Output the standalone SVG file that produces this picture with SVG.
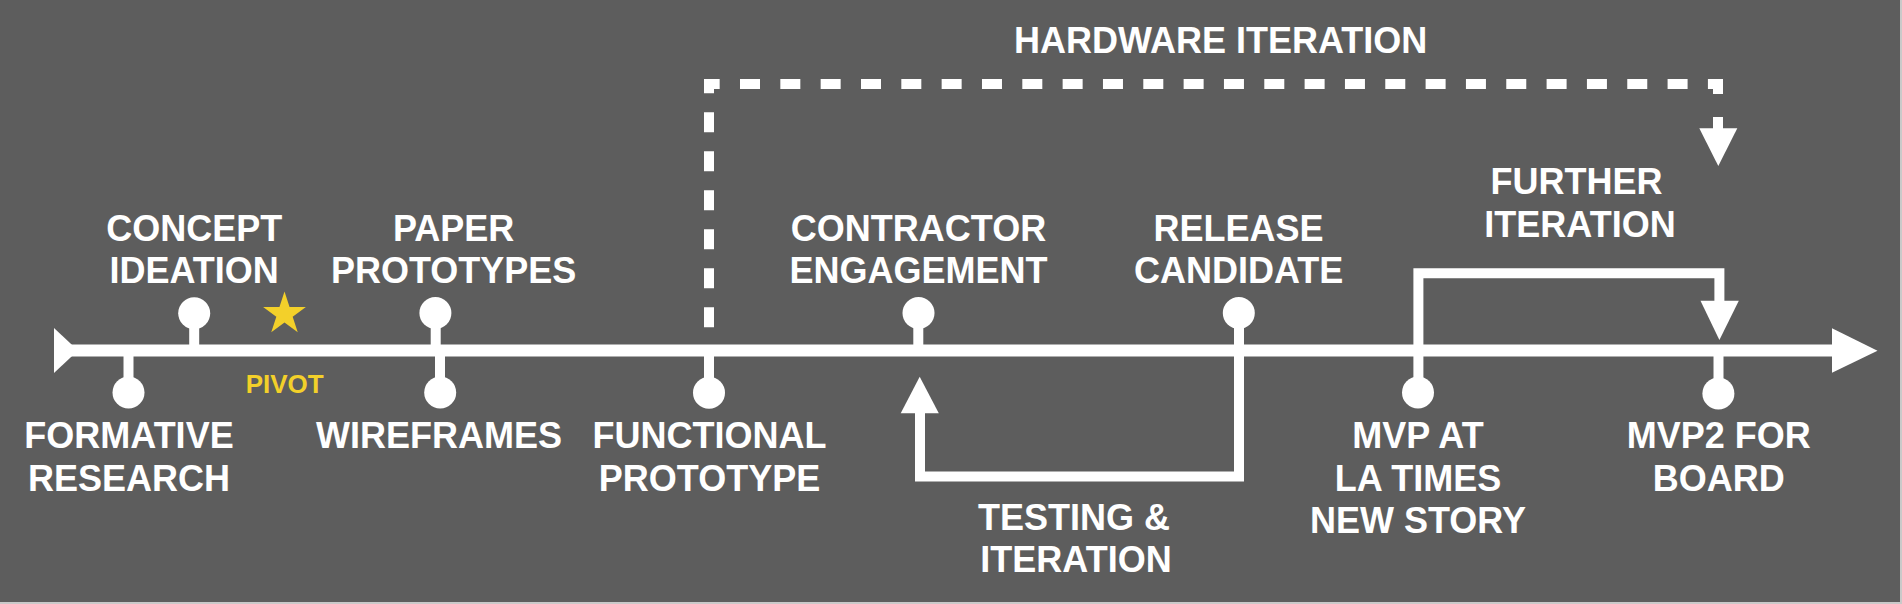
<svg xmlns="http://www.w3.org/2000/svg" width="1902" height="604" viewBox="0 0 1902 604">
<style>
.lbl{font-family:"Liberation Sans",Arial,sans-serif;font-weight:bold;font-size:36px;fill:#ffffff;text-anchor:middle}
.piv{font-family:"Liberation Sans",Arial,sans-serif;font-weight:bold;font-size:26px;fill:#f3d02a;text-anchor:middle}
.dot{fill:#ffffff}
.stem{stroke:#ffffff;stroke-width:10;fill:none}
.loop{stroke:#ffffff;stroke-width:10;fill:none;stroke-linejoin:miter}
.dash{stroke:#ffffff;stroke-width:10;fill:none}
.head{fill:#ffffff}
</style>
<rect x="0" y="0" width="1902" height="604" fill="#c9c9c9"/>
<rect x="0" y="0" width="1900" height="602" fill="#5d5d5d"/>

<g id="connectors">
  <!-- main timeline -->
  <line x1="70" y1="350.5" x2="1834" y2="350.5" stroke="#ffffff" stroke-width="12"/>
  <polygon class="head" points="54,328 78,350.5 54,373"/>
  <polygon class="head" points="1832,328.3 1877.5,350.7 1832,372.7"/>
  <!-- hardware iteration dashed loop -->
  <path class="dash" d="M709,79 V345" stroke-dasharray="20 19" stroke-dashoffset="5.7"/>
  <path class="dash" d="M704,84 H1723" stroke-dasharray="20 20.33" stroke-dashoffset="4.33"/>
  <path class="dash" d="M1718,79 V94"/>
  <path class="dash" d="M1718,117 V130"/>
  <polygon class="head" points="1699.3,128.3 1737.3,128.3 1718.3,166"/>
  <!-- testing & iteration loop -->
  <path class="loop" d="M1239,330 V476.5 H920 V410"/>
  <polygon class="head" points="900.7,413.3 938.8,413.3 919.7,376.7"/>
  <!-- further iteration loop -->
  <path class="loop" d="M1418.4,392 V273.3 H1719.4 V303"/>
  <polygon class="head" points="1700.5,300.7 1738.8,300.7 1719.4,340"/>
</g>

<g id="node-formative-research">
  <line class="stem" x1="128.5" y1="356" x2="128.5" y2="392"/>
  <circle class="dot" cx="128.5" cy="392.5" r="16"/>
  <text class="lbl" x="129" y="448.3">FORMATIVE<tspan x="129" y="490.7">RESEARCH</tspan></text>
</g>

<g id="node-concept-ideation">
  <line class="stem" x1="194.2" y1="313" x2="194.2" y2="346"/>
  <circle class="dot" cx="194.2" cy="313.3" r="16"/>
  <text class="lbl" x="194.2" y="240.7">CONCEPT<tspan x="194.2" y="282.7">IDEATION</tspan></text>
</g>

<g id="node-pivot">
  <polygon fill="#f3d02a" transform="translate(284.5,314) scale(22.5)" points="0,-1 0.2245,-0.309 0.9511,-0.309 0.3633,0.118 0.5878,0.809 0,0.382 -0.5878,0.809 -0.3633,0.118 -0.9511,-0.309 -0.2245,-0.309"/>
  <text class="piv" x="284.7" y="393.3">PIVOT</text>
</g>

<g id="node-paper-prototypes">
  <line class="stem" x1="435.7" y1="313" x2="435.7" y2="346"/>
  <circle class="dot" cx="435.4" cy="313" r="16"/>
  <text class="lbl" x="453.6" y="240.7">PAPER<tspan x="453.6" y="282.7">PROTOTYPES</tspan></text>
</g>

<g id="node-wireframes">
  <line class="stem" x1="440" y1="356" x2="440" y2="392"/>
  <circle class="dot" cx="440.2" cy="392.5" r="16"/>
  <text class="lbl" x="439" y="448.3">WIREFRAMES</text>
</g>

<g id="node-functional-prototype">
  <line class="stem" x1="709" y1="356" x2="709" y2="392"/>
  <circle class="dot" cx="709" cy="392.7" r="16"/>
  <text class="lbl" x="709.5" y="448.3">FUNCTIONAL<tspan x="709.5" y="490.7">PROTOTYPE</tspan></text>
</g>

<g id="node-contractor-engagement">
  <line class="stem" x1="918.3" y1="313" x2="918.3" y2="346"/>
  <circle class="dot" cx="918.5" cy="313" r="16"/>
  <text class="lbl" x="918.5" y="240.7">CONTRACTOR<tspan x="918.5" y="282.7">ENGAGEMENT</tspan></text>
</g>

<g id="node-release-candidate">
  <line class="stem" x1="1239" y1="313" x2="1239" y2="346"/>
  <circle class="dot" cx="1238.8" cy="313" r="16"/>
  <text class="lbl" x="1238.6" y="240.7">RELEASE<tspan x="1238.6" y="282.7">CANDIDATE</tspan></text>
</g>

<g id="label-testing-iteration">
  <text class="lbl" x="1074" y="530">TESTING &amp;<tspan x="1076" y="571.7">ITERATION</tspan></text>
</g>

<g id="node-mvp-la-times">
  <circle class="dot" cx="1418" cy="392.5" r="16"/>
  <text class="lbl" x="1418" y="448.3">MVP AT<tspan x="1418" y="490.7">LA TIMES</tspan><tspan x="1418" y="533.3">NEW STORY</tspan></text>
</g>

<g id="label-further-iteration">
  <text class="lbl" x="1576.5" y="194.3">FURTHER<tspan x="1580" y="236.7">ITERATION</tspan></text>
</g>

<g id="node-mvp2-board">
  <line class="stem" x1="1718.5" y1="356" x2="1718.5" y2="393"/>
  <circle class="dot" cx="1718.4" cy="393.5" r="16"/>
  <text class="lbl" x="1718.7" y="448.3">MVP2 FOR<tspan x="1718.7" y="490.7">BOARD</tspan></text>
</g>

<g id="label-hardware-iteration">
  <text class="lbl" x="1220.7" y="53.3">HARDWARE ITERATION</text>
</g>
</svg>
